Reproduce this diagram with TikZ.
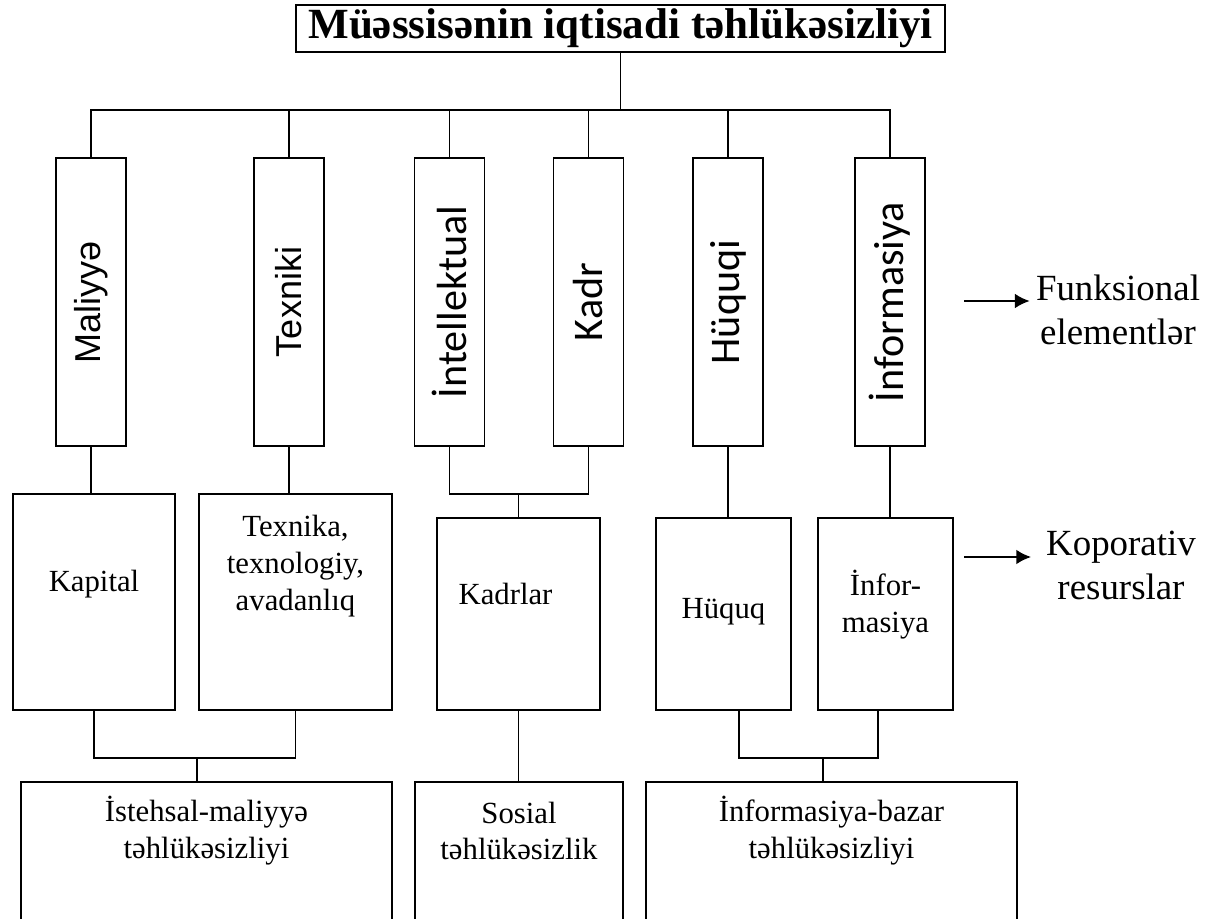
\documentclass[tikz,border=0pt]{standalone}
\usepackage{fontspec}
\setmainfont{Liberation Serif}
\newfontfamily\arialfont{Liberation Sans}
\newfontfamily\calfont{Carlito}
\usetikzlibrary{arrows.meta}
\tikzset{>={Latex[length=8.5pt,width=8.5pt]}}

\begin{document}
\begin{tikzpicture}[x=0.02cm, y=-0.02cm, line width=1.1pt]
  % vbox = funksional element, rbox = resurs, bbox = tehlukesizlik novu
  \tikzstyle{every node}=[inner sep=2pt]
  \tikzstyle{vbox}=[draw=black, minimum width=1.4cm, minimum height=5.76cm, inner sep=0pt]
  \tikzstyle{vboxA}=[vbox, font=\arialfont\fontsize{20.5}{24}\selectfont]
  \tikzstyle{vboxC}=[vbox, font=\calfont\fontsize{24}{28}\selectfont]
  \tikzstyle{rbox}=[draw=black, minimum height=3.84cm]
  \tikzstyle{bbox}=[draw=black, minimum height=4.36cm]
  \tikzstyle{txt}=[font=\fontsize{17.5}{21}\selectfont, align=center]
  \tikzstyle{side}=[font=\fontsize{21}{25}\selectfont, align=center, inner xsep=3pt]
  \useasboundingbox (0,0) rectangle (1207,919);

  \node[draw=black, minimum width=12.98cm, minimum height=0.94cm,
        font=\fontsize{24.5}{28}\selectfont\bfseries] (top) at (620.5,28.5)
        {Müəssisənin iqtisadi təhlükəsizliyi};

  \node[vboxA] (mal) at (91,302) {\rotatebox{90}{Maliyyə}};
  \node[vboxA] (tex) at (289,302) {\rotatebox{90}{Texniki}};
  \node[vboxC] (int) at (449.5,302) {\rotatebox{90}{İntellektual}};
  \node[vboxC] (kad) at (588.5,302) {\rotatebox{90}{Kadr}};
  \node[vboxC] (huq) at (728,302) {\rotatebox{90}{Hüquqi}};
  \node[vboxC] (inf) at (890,302) {\rotatebox{90}{İnformasiya}};

  \node[rbox, minimum width=3.24cm, minimum height=4.32cm,
        label={[txt, name=kapT, yshift=0.36cm]center:Kapital}] (kap) at (94,602) {};
  \node[rbox, minimum width=3.86cm, minimum height=4.32cm,
        label={[txt, name=tekT, yshift=0.72cm]center:Texnika,\\texnologiy,\\avadanlıq}] (tek) at (295.5,602) {};
  \node[rbox, minimum width=3.26cm,
        label={[txt, name=kdrT, yshift=0.4cm, xshift=-0.26cm]center:Kadrlar}] (kdr) at (518.5,614) {};
  \node[rbox, minimum width=2.7cm,
        label={[txt, name=hqT, yshift=0.04cm]center:Hüquq}] (hq) at (723.5,614) {};
  \node[rbox, minimum width=2.7cm,
        label={[txt, name=infrT, yshift=0.18cm]center:İnfor-\\masiya}] (infr) at (885.5,614) {};

  \node[bbox, minimum width=7.42cm,
        label={[txt, name=istT, yshift=1.2cm]center:İstehsal-maliyyə\\təhlükəsizliyi}] (ist) at (206.5,891) {};
  \node[bbox, minimum width=4.16cm,
        label={[txt, name=sosT, yshift=1.2cm]center:Sosial\\təhlükəsizlik}] (sos) at (519,891) {};
  \node[bbox, minimum width=7.42cm,
        label={[txt, name=bazT, yshift=1.2cm]center:İnformasiya-bazar\\təhlükəsizliyi}] (baz) at (831.5,891) {};

  \coordinate (bus) at (0,110);
  \draw (top.south) -- (top.south |- bus);
  \draw (mal.north) -- (mal.north |- bus) -- (inf.north |- bus) -- (inf.north);
  \foreach \n in {tex,int,kad,huq}
    \draw (\n.north) -- (\n.north |- bus);

  \draw (mal.south) -- (mal.south |- kap.north);
  \draw (tex.south) -- (tex.south |- tek.north);
  \coordinate (j1) at (518.5,494);
  \draw (int.south) |- (j1) -| (kad.south);
  \draw (j1) -- (kdr.north);
  \draw (huq.south) -- (huq.south |- hq.north);
  \draw (inf.south) -- (inf.south |- infr.north);

  \coordinate (j2) at (197,758);
  \draw (kap.south) |- (j2) -| (tek.south);
  \draw (j2) -- (j2 |- ist.north);
  \draw (kdr.south) -- (kdr.south |- sos.north);
  \coordinate (j3) at (823,758);
  \draw ([xshift=0.31cm]hq.south) |- (j3) -| ([xshift=-0.15cm]infr.south);
  \draw (j3) -- (j3 |- baz.north);

  \node[side] (fe) at (1118,310) {Funksional\\elementlər};
  \node[side] (ko) at (1121,565) {Koporativ\\resurslar};
  \coordinate (a1) at (964,301);
  \coordinate (a2) at (964,557);
  \draw[->, line width=1.4pt] (a1) -- (fe.west |- a1);
  \draw[->, line width=1.4pt, shorten >=5pt] (a2) -- (ko.west |- a2);
\end{tikzpicture}
\end{document}
